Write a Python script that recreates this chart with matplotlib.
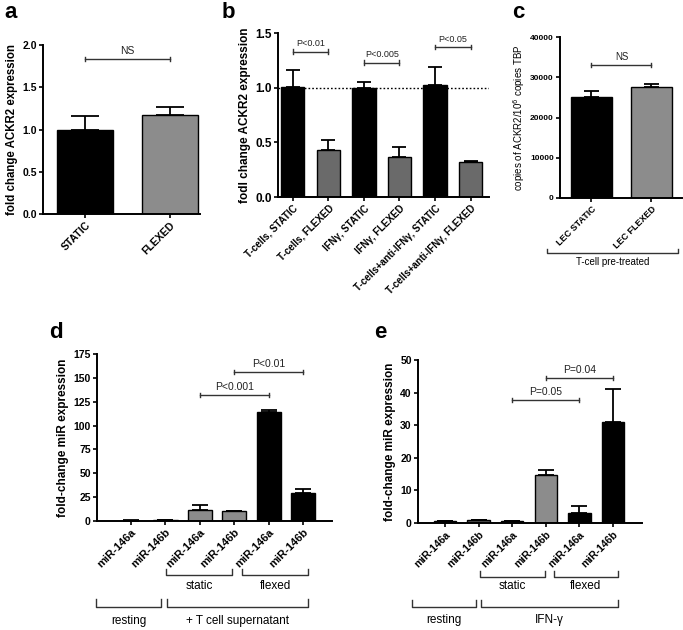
import matplotlib
matplotlib.use("Agg")
import matplotlib.pyplot as plt
import matplotlib.transforms as mtransforms
import numpy as np

plt.rcParams['font.family'] = ['Liberation Sans', 'DejaVu Sans']

# ---------------- data ----------------
a_labels = ["STATIC", "FLEXED"]
a_values = [1.00, 1.17]
a_errors = [0.16, 0.10]

b_labels = ["T-cells, STATIC", "T-cells, FLEXED", "IFN\u03b3, STATIC", "IFN\u03b3, FLEXED",
            "T-cells+anti-IFN\u03b3, STATIC", "T-cells+anti-IFN\u03b3, FLEXED"]
b_values = [1.01, 0.43, 1.00, 0.37, 1.02, 0.32]
b_errors = [0.15, 0.09, 0.05, 0.09, 0.17, 0.01]

c_labels = ["LEC STATIC", "LEC FLEXED"]
c_values = [25000, 27500]
c_errors = [1500, 700]

mir_labels = ["miR-146a", "miR-146b", "miR-146a", "miR-146b", "miR-146a", "miR-146b"]
d_values = [0.5, 0.9, 12.0, 10.0, 114.0, 29.0]
d_errors = [0.2, 0.2, 5.0, 1.0, 2.0, 5.0]
e_values = [0.5, 0.9, 0.6, 14.8, 3.2, 31.0]
e_errors = [0.2, 0.1, 0.1, 1.5, 2.0, 10.0]

BLACK = "#000000"
GRAY = "#8c8c8c"
DGRAY = "#6a6a6a"

fig = plt.figure(figsize=(6.83, 6.3), dpi=100)
W, H = 683, 630


def add_ax(l, r, t, b):
    return fig.add_axes([l / W, 1 - b / H, (r - l) / W, (b - t) / H])


def style(ax, ysize=7.5):
    for s in ("top", "right"):
        ax.spines[s].set_visible(False)
    for s in ("left", "bottom"):
        ax.spines[s].set_linewidth(1.4)
    ax.tick_params(axis="both", width=1.2, length=3, pad=1.5)
    ax.tick_params(axis="y", labelsize=ysize)
    for t in ax.get_yticklabels():
        t.set_fontweight("bold")


def bars(ax, x, vals, errs, colors, width, cap):
    ax.bar(x, vals, width=width, color=colors, edgecolor="black", linewidth=1.0, zorder=2)
    ax.errorbar(x, vals, yerr=[np.zeros(len(vals)), errs], fmt="none", ecolor="black",
                elinewidth=1.3, capsize=cap, capthick=1.3, zorder=3)


def sig(ax, x1, x2, y, text, dy, fs=7):
    ax.plot([x1, x2], [y, y], color="#333333", lw=1.0, zorder=4, clip_on=False)
    for xx in (x1, x2):
        ax.plot([xx, xx], [y - dy, y + dy], color="#333333", lw=1.0, zorder=4, clip_on=False)
    ax.text((x1 + x2) / 2, y + dy * 1.6, text, ha="center", va="bottom", fontsize=fs, color="#222222")


def under_bracket(ax, x1, x2, ypx, tickpx, text, textpx, fs=8.5):
    tr = mtransforms.blended_transform_factory(ax.transData, fig.transFigure)
    yl = 1 - ypx / H
    yt = 1 - tickpx / H
    ax.plot([x1, x1, x2, x2], [yt, yl, yl, yt], color="#333333", lw=1.0,
            transform=tr, clip_on=False)
    ax.text((x1 + x2) / 2, 1 - textpx / H, text, transform=tr, ha="center", va="center",
            fontsize=fs)


def xlabels(ax, labels, fs):
    ax.set_xticks(np.arange(len(labels)))
    ax.set_xticklabels(labels, rotation=45, ha="right", rotation_mode="anchor", fontsize=fs,
                       fontweight="bold")


# ---------------- panel a ----------------
ax = add_ax(43, 200, 45, 214)
xa = np.arange(len(a_values))
bars(ax, xa, a_values, a_errors, [BLACK, GRAY], 0.66, 10)
ax.set_xlim(-0.494, 1.353)
ax.set_ylim(0, 2.0)
ax.set_yticks([0, 0.5, 1.0, 1.5, 2.0])
ax.set_yticklabels(["0.0", "0.5", "1.0", "1.5", "2.0"])
xlabels(ax, a_labels, 7.5)
ax.set_ylabel("fold change ACKR2 expression", fontsize=8.3, fontweight="bold", labelpad=3)
style(ax)
sig(ax, 0, 1, 1.83, "NS", 0.025, fs=7.5)

# ---------------- panel b ----------------
ax = add_ax(278, 489, 33, 197)
xb = np.arange(len(b_values))
bars(ax, xb, b_values, b_errors, [BLACK, DGRAY] * 3, 0.65, 4.7)
ax.set_xlim(-0.42, 5.52)
ax.set_ylim(0, 1.5)
ax.axhline(1.0, color="black", lw=1.0, ls=(0, (1.2, 1.5)), zorder=1)
ax.set_yticks([0, 0.5, 1.0, 1.5])
ax.set_yticklabels(["0.0", "0.5", "1.0", "1.5"])
xlabels(ax, b_labels, 7)
ax.set_ylabel("fodl change ACKR2 expression", fontsize=8.5, fontweight="bold", labelpad=3)
style(ax, ysize=8.5)
sig(ax, 0, 1, 1.33, "P<0.01", 0.02, fs=6.5)
sig(ax, 2, 3, 1.23, "P<0.005", 0.02, fs=6.5)
sig(ax, 4, 5, 1.37, "P<0.05", 0.02, fs=6.5)

# ---------------- panel c ----------------
ax = add_ax(560, 682, 37, 198)
xc = np.arange(len(c_values))
bars(ax, xc, c_values, c_errors, [BLACK, GRAY], 0.68, 5.4)
ax.set_xlim(-0.525, 1.51)
ax.set_ylim(0, 40000)
ax.set_yticks([0, 10000, 20000, 30000, 40000])
ax.set_yticklabels(["0", "10000", "20000", "30000", "40000"])
xlabels(ax, c_labels, 6.5)
ax.set_ylabel("copies of ACKR2/10$^6$ copies TBP", fontsize=7, labelpad=2)
style(ax, ysize=6)
sig(ax, 0, 1, 33000, "NS", 500, fs=7)
under_bracket(ax, -0.74, 1.44, 253, 249, "T-cell pre-treated", 262, fs=7)

# ---------------- panel d ----------------
ax = add_ax(97, 332, 354, 521)
xd = np.arange(len(d_values))
bars(ax, xd, d_values, d_errors, ["#a8a8a8", "#8a8a8a", GRAY, GRAY, BLACK, BLACK], 0.7, 6)
ax.set_xlim(-0.99, 5.84)
ax.set_ylim(0, 175)
ax.set_yticks(np.arange(0, 176, 25))
xlabels(ax, mir_labels, 8)
ax.set_ylabel("fold-change miR expression", fontsize=8.5, fontweight="bold", labelpad=3)
style(ax)
sig(ax, 2, 4, 132, "P<0.001", 2.2, fs=7.5)
sig(ax, 3, 5, 156, "P<0.01", 2.2, fs=7.5)
under_bracket(ax, 1.02, 2.94, 575, 569, "static", 586)
under_bracket(ax, 3.23, 5.15, 575, 569, "flexed", 586)
under_bracket(ax, -1.02, 0.87, 607, 599, "resting", 621)
under_bracket(ax, 1.05, 5.15, 607, 599, "+ T cell supernatant", 621)

# ---------------- panel e ----------------
ax = add_ax(418, 642, 360, 523)
xe = np.arange(len(e_values))
bars(ax, xe, e_values, e_errors, ["#b5b5b5", "#555555", GRAY, GRAY, BLACK, BLACK], 0.66, 6)
ax.set_xlim(-0.80, 5.86)
ax.set_ylim(0, 50)
ax.set_yticks(np.arange(0, 51, 10))
xlabels(ax, mir_labels, 7.5)
ax.set_ylabel("fold-change miR expression", fontsize=8.5, fontweight="bold", labelpad=3)
style(ax)
sig(ax, 2, 4, 37.7, "P=0.05", 0.6, fs=7.5)
sig(ax, 3, 5, 44.5, "P=0.04", 0.6, fs=7.5)
under_bracket(ax, 1.04, 2.98, 577, 571, "static", 586)
under_bracket(ax, 3.24, 5.15, 577, 571, "flexed", 586)
under_bracket(ax, -0.98, 0.92, 607, 600, "resting", 620)
under_bracket(ax, 1.07, 5.15, 607, 600, "IFN-\u03b3", 620)

# ---------------- panel letters ----------------
for lab, xpx, ypx in [("a", 4, 2), ("b", 222, 2), ("c", 512, 2), ("d", 49, 322), ("e", 374, 322)]:
    fig.text(xpx / W, 1 - ypx / H, lab, fontsize=16, fontweight="bold", ha="left", va="top")

fig.savefig("out.png", dpi=100)
